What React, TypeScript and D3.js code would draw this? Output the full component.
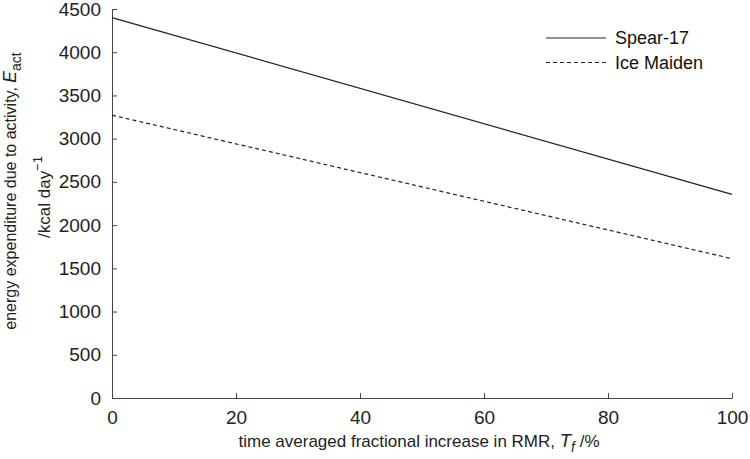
import React, { useEffect, useRef } from 'react'
import * as d3 from 'd3'

const fractions = [0, 100]
const spear17 = [4400, 2355]
const iceMaiden = [3272, 1612]
const xTicks = [0, 20, 40, 60, 80, 100]
const yTicks = [0, 500, 1000, 1500, 2000, 2500, 3000, 3500, 4000, 4500]
const seriesNames = ['Spear-17', 'Ice Maiden']

const App: React.FC = () => {
  const ref = useRef<SVGSVGElement | null>(null)

  useEffect(() => {
    if (!ref.current) return
    const width = 750
    const height = 459
    const margin = { top: 9, right: 18, bottom: 61, left: 112 }
    const font = '"Liberation Sans", Arial, Helvetica, sans-serif'
    const axisColor = '#444'

    const svg = d3.select(ref.current)
    svg.selectAll('*').remove()
    svg.attr('width', width).attr('height', height).attr('font-family', font)

    const x = d3.scaleLinear().domain([0, 100]).range([margin.left, width - margin.right])
    const y = d3.scaleLinear().domain([0, 4500]).range([height - margin.bottom, margin.top])

    const xAxis = svg
      .append('g')
      .attr('transform', `translate(0,${height - margin.bottom})`)
      .call(
        d3
          .axisBottom(x)
          .tickValues(xTicks)
          .tickFormat(d3.format('d'))
          .tickSizeInner(-5)
          .tickSizeOuter(0)
          .tickPadding(12)
      )
    const yAxis = svg
      .append('g')
      .attr('transform', `translate(${margin.left},0)`)
      .call(
        d3
          .axisLeft(y)
          .tickValues(yTicks)
          .tickFormat(d3.format('d'))
          .tickSizeInner(-5)
          .tickSizeOuter(0)
          .tickPadding(11)
      )

    for (const g of [xAxis, yAxis]) {
      g.select('.domain').attr('stroke', axisColor).attr('stroke-width', 1)
      g.selectAll('.tick line').attr('stroke', axisColor)
      g.selectAll('.tick text').attr('fill', '#222').attr('font-size', 19).attr('font-family', font)
    }
    xAxis.selectAll('.tick text').attr('dy', '0.76em')

    const line = d3
      .line<number>()
      .x((_, i) => x(fractions[i]))
      .y((d) => y(d))

    svg
      .append('path')
      .datum(spear17)
      .attr('d', line)
      .attr('fill', 'none')
      .attr('stroke', '#222')
      .attr('stroke-width', 1.2)

    svg
      .append('path')
      .datum(iceMaiden)
      .attr('d', line)
      .attr('fill', 'none')
      .attr('stroke', '#222')
      .attr('stroke-width', 1.2)
      .attr('stroke-dasharray', '4,3')

    // legend
    const legend = svg.append('g')
    seriesNames.forEach((name, i) => {
      const ly = 38 + i * 24.5
      legend
        .append('line')
        .attr('x1', 546)
        .attr('x2', 606)
        .attr('y1', ly)
        .attr('y2', ly)
        .attr('stroke', '#222')
        .attr('stroke-width', 1.2)
        .attr('stroke-dasharray', i === 1 ? '4,3' : null)
      legend
        .append('text')
        .attr('x', 615)
        .attr('y', ly)
        .attr('dy', '0.35em')
        .attr('font-size', 18)
        .attr('fill', '#111')
        .text(name)
    })

    // x title
    const xt = svg
      .append('text')
      .attr('x', 419)
      .attr('y', 447)
      .attr('text-anchor', 'middle')
      .attr('font-size', 17)
      .attr('fill', '#222')
    xt.append('tspan').text('time averaged fractional increase in RMR, ')
    xt.append('tspan').attr('font-style', 'italic').attr('font-size', 18.5).text('T')
    xt.append('tspan').attr('font-style', 'italic').attr('font-size', 14).attr('dy', 5).text('f')
    xt.append('tspan').attr('dy', -5).text(' /%')

    // y title
    const yt1 = svg
      .append('text')
      .attr('transform', `translate(16,191) rotate(-90)`)
      .attr('text-anchor', 'middle')
      .attr('font-size', 16)
      .attr('fill', '#222')
    yt1.append('tspan').text('energy expenditure due to activity, ')
    yt1.append('tspan').attr('font-style', 'italic').attr('font-size', 17.5).text('E')
    yt1.append('tspan').attr('font-size', 14).attr('dy', 5).text('act')

    const yt2 = svg
      .append('text')
      .attr('transform', `translate(50,197) rotate(-90)`)
      .attr('text-anchor', 'middle')
      .attr('font-size', 17)
      .attr('fill', '#222')
    yt2.append('tspan').text('/kcal day')
    yt2.append('tspan').attr('font-size', 13).attr('dy', -8).text('−1')
  }, [])

  return <svg ref={ref} style={{ display: 'block', position: 'absolute', left: 0, top: 0 }} />
}

export default App
